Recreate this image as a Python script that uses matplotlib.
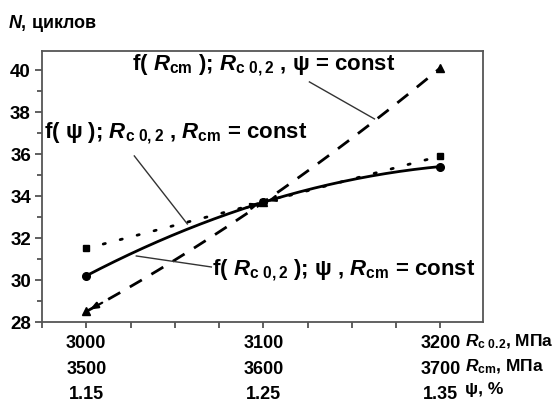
import numpy as np
import matplotlib
matplotlib.use("Agg")
import matplotlib.pyplot as plt
from matplotlib.ticker import MultipleLocator, FixedLocator

plt.rcParams['font.family'] = ['Liberation Sans', 'DejaVu Sans']
plt.rcParams['font.weight'] = 'bold'
plt.rcParams['mathtext.fontset'] = 'custom'
plt.rcParams['mathtext.rm'] = 'Liberation Sans:bold'
plt.rcParams['mathtext.it'] = 'Liberation Sans:bold:italic'
plt.rcParams['mathtext.bf'] = 'Liberation Sans:bold'

# ---- data ----
rc02 = [3000, 3100, 3200]            # R_c0.2, MPa (x axis)
rcm_labels = ['3500', '3600', '3700']  # R_cm, MPa
psi_labels = ['1.15', '1.25', '1.35']  # psi, %
n_psi = [31.5, 33.7, 35.9]    # f(psi) - squares, dotted
n_rcm = [28.5, 33.7, 40.1]    # f(Rcm) - triangles, dashed
n_rc02 = [30.2, 33.7, 35.4]   # f(Rc0.2) - circles, solid

fig = plt.figure(figsize=(5.56, 4.14), dpi=100)
ax = fig.add_axes([42/556, 1-323/414, (483-42)/556, (323-52)/414])

x = np.array(rc02, dtype=float)
xs = np.linspace(x[0], x[-1], 200)

def smooth(y):
    c = np.polyfit(x, y, 2)
    return np.polyval(c, xs)

ax.plot(xs, smooth(n_rc02), color='black', lw=2.0, ls='-')
ax.plot(xs, smooth(n_psi), color='black', lw=2.0, ls=(0, (0.8, 5.5)), dash_capstyle='round')
ax.plot(xs, smooth(n_rcm), color='black', lw=2.0, ls=(0, (5, 4)))
ax.plot(x, n_rc02, 'o', color='black', ms=5.5)
ax.plot(x, n_psi, 's', color='black', ms=5)
ax.plot(x, n_rcm, '^', color='black', ms=5.5)

# small arrowheads as in the original drawing
def arrow_into(ys, i, frm):
    yc = np.polyval(np.polyfit(x, ys, 2), frm)
    ax.annotate('', xy=(x[i], ys[i]), xytext=(frm, yc),
                arrowprops=dict(arrowstyle='-|>,head_length=0.45,head_width=0.18',
                                color='black', lw=1.6, shrinkA=0, shrinkB=3))

arrow_into(n_rc02, 1, x[1] - 10)
arrow_into(n_rc02, 1, x[1] + 10)
arrow_into(n_rcm, 0, x[0] + 9)

ax.set_xlim(2975, 3224)
ax.set_ylim(28, 40.9)

ax.yaxis.set_major_locator(MultipleLocator(2))
ax.yaxis.set_minor_locator(MultipleLocator(1))
ax.xaxis.set_major_locator(FixedLocator(rc02))
ax.xaxis.set_minor_locator(MultipleLocator(25))
ax.set_xticklabels([f'{a}\n{b}\n{c}' for a, b, c in zip(rc02, rcm_labels, psi_labels)],
                   linespacing=1.65)
ax.tick_params(axis='both', which='major', direction='out', length=5, width=1.2,
               labelsize=13, color='#444444')
ax.tick_params(axis='both', which='minor', direction='out', length=3.5, width=1.2,
               color='#444444')
ax.tick_params(axis='x', which='major', length=4, pad=5)
ax.tick_params(axis='x', which='minor', length=4)
ax.tick_params(axis='y', which='major', labelsize=13.5, pad=3)
for lab in ax.get_xticklabels() + ax.get_yticklabels():
    lab.set_fontweight('bold')
for s in ax.spines.values():
    s.set_color('#555555')
    s.set_linewidth(1.3)

# unit labels for the three x rows
fig.text(465/556, 1-342/414, r'$R_{\mathrm{c\ 0.2}}$, МПа', fontsize=12.5, va='center', ha='left')
fig.text(465/556, 1-367/414, r'$R_{\mathrm{cm}}$, МПа', fontsize=12.5, va='center', ha='left')
fig.text(465/556, 1-390/414, 'ψ, %', fontsize=12.5, va='center', ha='left')

# y title
fig.text(8/556, 1-24/414, r'$N$, циклов', fontsize=13, va='center', ha='left')

# annotations
fs = 16
ax.text(3000 + (133-87)/1.77, 40.9 - (65-52)/21, r'f( $R_{\mathrm{cm}}$ ); $R_{\mathrm{c\ 0,2}}$ , ψ = const',
        fontsize=fs, ha='left', va='center')
ax.text(3000 + (45-87)/1.77, 28 + (323-133)/21, r'f( ψ ); $R_{\mathrm{c\ 0,2}}$ , $R_{\mathrm{cm}}$ = const',
        fontsize=fs, ha='left', va='center')
ax.text(3000 + (213-87)/1.77, 28 + (323-270)/21, r'f( $R_{\mathrm{c\ 0,2}}$ ); ψ , $R_{\mathrm{cm}}$ = const',
        fontsize=fs, ha='left', va='center')

def px(xp, yp):
    return (3000 + (xp-87)/1.77, 28 + (323-yp)/21)

for (a, b) in [((310, 83), (375, 120)), ((135, 157), (188, 225)), ((137, 257), (212, 268))]:
    p1 = px(*a); p2 = px(*b)
    ax.plot([p1[0], p2[0]], [p1[1], p2[1]], color='#333333', lw=1.0)

fig.savefig('out.png', dpi=100)
